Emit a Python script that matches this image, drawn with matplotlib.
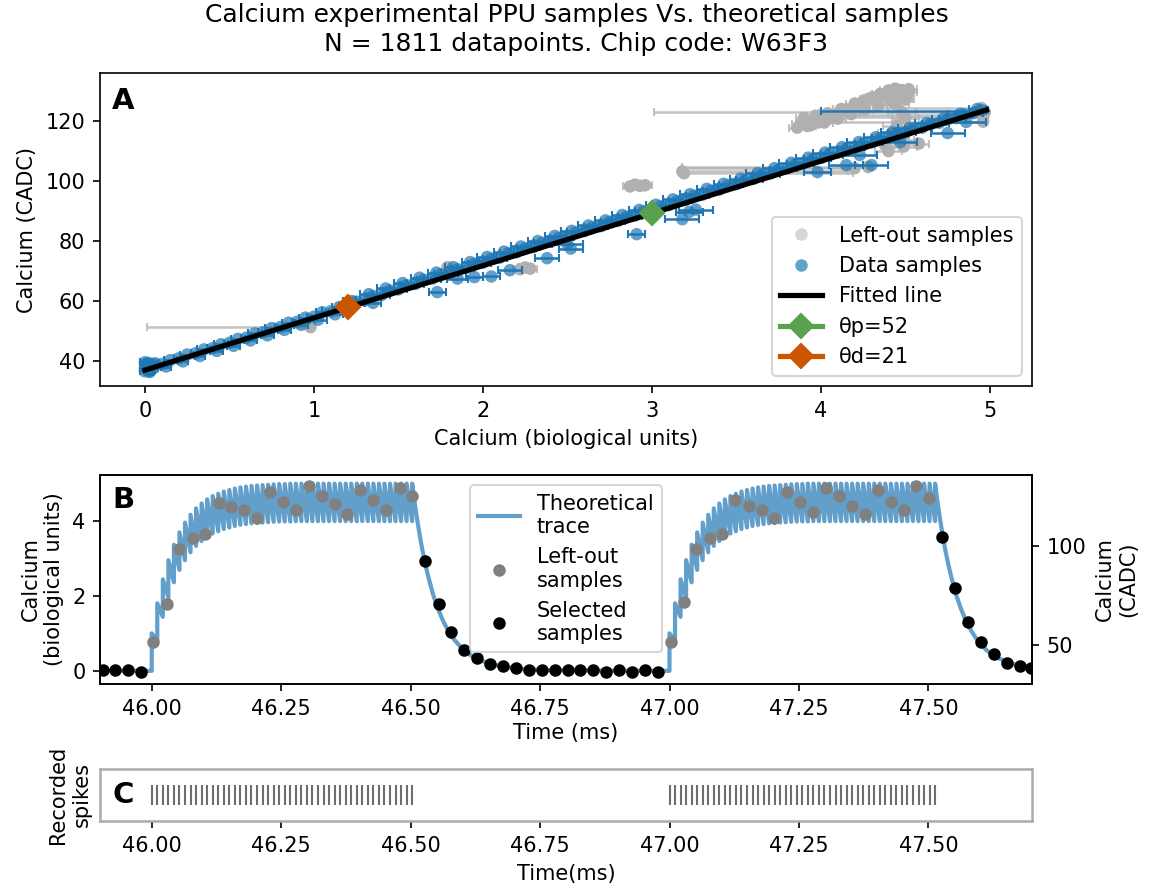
import numpy as np
import matplotlib
matplotlib.use("Agg")
import matplotlib.pyplot as plt
from matplotlib.lines import Line2D

# ---------------- Panel A data ----------------
band_x = [0.00, 0.01, 0.02, 0.00, 0.03, 0.01, 0.04, 0.02, 0.05, 0.06, 0.00, 0.03,
          0.05, 0.10, 0.15, 0.20, 0.25, 0.30, 0.35, 0.40, 0.45, 0.50,
          0.55, 0.60, 0.65, 0.70, 0.75, 0.80, 0.85, 0.90, 0.95, 1.00,
          1.05, 1.10, 1.15, 1.20, 1.25, 1.30, 1.35, 1.40, 1.45, 1.50,
          1.55, 1.60, 1.65, 1.70, 1.75, 1.80, 1.85, 1.90, 1.95, 2.00,
          2.05, 2.10, 2.15, 2.20, 2.25, 2.30, 2.35, 2.40, 2.45, 2.50,
          2.55, 2.60, 2.65, 2.70, 2.75, 2.80, 2.85, 2.90, 2.95, 3.00,
          3.05, 3.10, 3.15, 3.20, 3.25, 3.30, 3.35, 3.40, 3.45, 3.50,
          3.55, 3.60, 3.65, 3.70, 3.75, 3.80, 3.85, 3.90, 3.95, 4.00,
          4.05, 4.10, 4.15, 4.20, 4.25, 4.30, 4.35, 4.40, 4.45, 4.50,
          4.55, 4.60, 4.65, 4.70, 4.75, 4.80, 4.85, 4.90, 4.95]
band_y = [36.6, 38.2, 39.4, 37.8, 37.2, 39.0, 38.4, 36.9, 37.6, 39.3, 39.6, 36.4,
          38.8, 39.0, 40.3, 40.9, 42.2, 42.6, 43.9, 44.3, 45.6, 46.1,
          47.4, 47.8, 49.2, 49.6, 51.0, 51.3, 52.8, 53.1, 54.5, 54.8,
          56.3, 56.6, 58.0, 58.3, 59.8, 60.2, 61.7, 62.0, 63.5, 63.9,
          65.3, 65.7, 67.1, 67.5, 68.9, 69.2, 70.6, 71.0, 72.4, 72.8,
          74.1, 74.5, 75.9, 76.3, 77.6, 78.0, 79.4, 79.8, 81.1, 81.5,
          82.9, 83.3, 84.6, 85.0, 86.4, 86.8, 88.1, 88.5, 89.9, 90.2,
          91.6, 92.0, 93.3, 93.7, 95.1, 95.5, 96.8, 97.2, 98.6, 99.0,
          100.3, 100.7, 102.1, 102.5, 103.8, 104.2, 105.6, 106.0, 107.3, 107.7,
          109.1, 109.5, 110.8, 111.2, 112.5, 112.9, 114.2, 114.5, 115.9, 116.2,
          117.5, 117.8, 119.1, 119.4, 120.6, 121.0, 122.2, 122.6, 123.6]
band_xerr = [0.03, 0.02, 0.03, 0.02, 0.03, 0.02, 0.03, 0.02, 0.03, 0.02, 0.03, 0.02,
             0.03, 0.03, 0.04, 0.03, 0.04, 0.03, 0.04, 0.03, 0.04, 0.03,
             0.04, 0.03, 0.04, 0.03, 0.04, 0.03, 0.04, 0.03, 0.04, 0.04,
             0.04, 0.05, 0.04, 0.05, 0.04, 0.05, 0.04, 0.05, 0.04, 0.05,
             0.04, 0.05, 0.04, 0.05, 0.04, 0.05, 0.04, 0.05, 0.04, 0.05,
             0.05, 0.04, 0.05, 0.04, 0.05, 0.04, 0.05, 0.04, 0.05, 0.04,
             0.05, 0.04, 0.05, 0.04, 0.05, 0.04, 0.05, 0.04, 0.05, 0.04,
             0.05, 0.04, 0.05, 0.04, 0.05, 0.04, 0.05, 0.04, 0.05, 0.04,
             0.05, 0.06, 0.05, 0.06, 0.05, 0.06, 0.05, 0.06, 0.05, 0.06,
             0.05, 0.06, 0.05, 0.06, 0.05, 0.06, 0.05, 0.06, 0.05, 0.06,
             0.05, 0.06, 0.05, 0.06, 0.05, 0.06, 0.05, 0.06, 0.04]

band2_x = [0.025, 0.125, 0.225, 0.325, 0.425, 0.525, 0.625, 0.725, 0.825, 0.925,
           1.025, 1.125, 1.225, 1.325, 1.425, 1.525, 1.625, 1.725, 1.825, 1.925,
           2.025, 2.125, 2.225, 2.325, 2.425, 2.525, 2.625, 2.725, 2.825, 2.925,
           3.025, 3.125, 3.225, 3.325, 3.425, 3.525, 3.625, 3.725, 3.825, 3.925,
           4.025, 4.125, 4.225, 4.325, 4.425, 4.525, 4.625, 4.725, 4.825, 4.925]
band2_y = [36.6, 38.2, 39.9, 41.7, 43.4, 45.1, 46.9, 48.6, 50.4, 52.1,
           53.8, 55.6, 60.0, 62.3, 64.2, 66.0, 67.8, 69.5, 71.3, 73.0,
           74.7, 76.5, 78.2, 80.0, 81.7, 83.4, 85.2, 86.9, 88.7, 90.4,
           92.1, 93.9, 95.6, 97.4, 99.1, 100.8, 102.6, 104.3, 106.1, 107.8,
           109.5, 111.3, 113.0, 114.6, 116.2, 117.7, 119.3, 120.8, 122.4, 124.0]
band2_xerr = [0.03, 0.03, 0.03, 0.03, 0.04, 0.04, 0.04, 0.04, 0.04, 0.04,
              0.05, 0.05, 0.05, 0.05, 0.05, 0.05, 0.05, 0.05, 0.05, 0.05,
              0.06, 0.06, 0.06, 0.06, 0.06, 0.06, 0.06, 0.06, 0.06, 0.06,
              0.06, 0.06, 0.06, 0.06, 0.06, 0.06, 0.07, 0.07, 0.07, 0.07,
              0.07, 0.07, 0.07, 0.07, 0.07, 0.07, 0.07, 0.07, 0.07, 0.05]

outlier_x = [1.73, 1.85, 1.95, 2.05, 2.16, 2.38, 2.52, 2.50, 2.91, 3.18,
             3.22, 3.26, 3.98, 4.15, 4.30, 4.23, 4.47, 4.75, 4.86, 1.35]
outlier_y = [63.0, 67.5, 68.0, 68.2, 70.3, 74.3, 77.5, 79.0, 82.3, 87.3,
             89.7, 90.5, 103.0, 105.3, 105.3, 108.7, 113.0, 116.0, 119.7, 59.4]
outlier_xerr = [0.05, 0.06, 0.05, 0.05, 0.07, 0.07, 0.07, 0.09, 0.05, 0.10,
                0.08, 0.10, 0.08, 0.10, 0.10, 0.10, 0.10, 0.10, 0.12, 0.05]

longbar_x = [4.97]
longbar_y = [123.3]
longbar_xerr_lo = [0.97]
longbar_xerr_hi = [0.01]

left_x = [0.98, 2.22, 2.25, 2.28, 1.79, 2.87, 2.90, 2.93, 2.96, 3.18,
          3.19, 4.20, 4.28, 3.88, 3.92, 3.98, 4.02, 4.06, 4.10, 4.15,
          4.20, 4.25, 4.30, 4.35, 4.40, 4.44, 4.48, 4.52, 4.46, 4.44,
          4.48, 4.50, 4.45, 4.42, 4.47, 4.49, 4.40, 4.44, 4.96, 4.96,
          4.97, 4.96, 4.95,
          3.86, 3.94, 4.02, 4.10, 4.18, 4.26, 4.34, 4.42, 4.50,
          3.90, 3.97, 4.04, 4.12, 4.20, 4.28, 4.36, 4.44, 4.52,
          4.38, 4.45, 4.52, 4.58]
left_y = [51.3, 70.6, 71.2, 70.8, 71.3, 98.2, 98.8, 98.4, 98.6, 103.2,
          102.6, 104.3, 104.7, 119.0, 118.4, 119.6, 120.6, 121.5, 122.4, 123.8,
          125.0, 126.6, 127.8, 129.0, 130.2, 130.8, 130.3, 129.6, 127.5, 125.6,
          123.0, 121.0, 118.5, 116.0, 113.8, 111.5, 110.0, 114.8, 121.2, 122.0,
          123.0, 119.8, 124.3,
          117.8, 118.6, 119.5, 120.8, 122.3, 123.8, 125.2, 126.5, 127.3,
          121.0, 121.8, 122.6, 124.0, 125.8, 127.3, 128.7, 129.8, 130.6,
          112.0, 115.5, 117.0, 112.5]
left_xerr_lo = [0.97, 0.04, 0.04, 0.04, 0.02, 0.04, 0.04, 0.04, 0.04, 0.00,
                0.00, 1.02, 1.10, 0.05, 0.05, 0.05, 0.05, 0.05, 0.05, 0.05,
                0.05, 0.05, 0.05, 0.05, 0.05, 0.05, 0.05, 0.05, 0.08, 0.08,
                0.08, 0.08, 0.08, 0.08, 0.08, 0.08, 0.08, 0.08, 1.00, 0.95,
                1.96, 1.05, 0.60,
                0.05, 0.05, 0.05, 0.05, 0.05, 0.05, 0.05, 0.05, 0.05,
                0.05, 0.05, 0.05, 0.05, 0.05, 0.05, 0.05, 0.05, 0.05,
                0.06, 0.06, 0.06, 0.06]
left_xerr_hi = [0.00, 0.04, 0.04, 0.04, 0.02, 0.04, 0.04, 0.04, 0.04, 0.98,
                1.00, 0.02, 0.02, 0.05, 0.05, 0.05, 0.05, 0.05, 0.05, 0.05,
                0.05, 0.05, 0.05, 0.05, 0.05, 0.05, 0.05, 0.05, 0.08, 0.08,
                0.08, 0.08, 0.08, 0.08, 0.08, 0.08, 0.08, 0.08, 0.02, 0.02,
                0.02, 0.02, 0.02,
                0.05, 0.05, 0.05, 0.05, 0.05, 0.05, 0.05, 0.05, 0.05,
                0.05, 0.05, 0.05, 0.05, 0.05, 0.05, 0.05, 0.05, 0.05,
                0.06, 0.06, 0.06, 0.06]

fit_x = [0.0, 4.98]
fit_y = [37.0, 123.7]
theta_p_xy = (3.0, 89.4)
theta_d_xy = (1.2, 57.9)

# ---------------- Panel B data ----------------
burst_starts = [46.000, 47.000]
burst_ends = [46.503, 47.513]
burst_counts = [48, 49]
rise_peaks = [1.00, 1.80, 2.44, 2.95, 3.36, 3.69, 3.95, 4.16, 4.33, 4.46,
              4.57, 4.66, 4.72, 4.78, 4.82, 4.86, 4.89, 4.91, 4.93, 4.94,
              4.95, 4.96, 4.97, 4.98, 4.98, 4.99, 4.99]
rise_troughs = [0.80, 1.44, 1.95, 2.36, 2.69, 2.95, 3.16, 3.33, 3.46, 3.57,
                3.66, 3.72, 3.78, 3.82, 3.86, 3.89, 3.91, 3.93, 3.94, 3.95,
                3.96, 3.97, 3.98, 3.98, 3.98, 3.99, 3.99]
plateau_peak = 4.99
plateau_trough = 3.99
tail_dt = [0.0, 0.005, 0.01, 0.015, 0.02, 0.025, 0.03, 0.04, 0.05, 0.06,
           0.07, 0.08, 0.10, 0.12, 0.15, 0.20, 0.25, 0.30, 0.40, 0.49]
tail_v = [4.99, 4.47, 4.00, 3.58, 3.20, 2.87, 2.57, 2.05, 1.65, 1.32,
          1.06, 0.85, 0.54, 0.35, 0.18, 0.06, 0.02, 0.01, 0.00, 0.00]

sel_t = [45.905, 45.929, 45.954, 45.979, 46.528, 46.554, 46.578, 46.604, 46.628,
         46.653, 46.678, 46.703, 46.728, 46.753, 46.778, 46.803, 46.827, 46.852,
         46.878, 46.903, 46.928, 46.952, 46.977, 47.527, 47.552, 47.576, 47.602,
         47.627, 47.652, 47.677, 47.699]
sel_v = [0.02, 0.03, 0.03, -0.03, 2.94, 1.78, 1.03, 0.55, 0.35, 0.18, 0.12, 0.07,
         0.03, 0.03, 0.03, 0.03, 0.03, 0.03, -0.03, 0.03, -0.03, 0.03, -0.03,
         3.58, 2.20, 1.30, 0.77, 0.45, 0.22, 0.13, 0.08]
lo_t = [46.003, 46.029, 46.053, 46.079, 46.103, 46.129, 46.154, 46.178, 46.204,
        46.228, 46.253, 46.279, 46.304, 46.329, 46.354, 46.378, 46.403, 46.428,
        46.453, 46.479, 46.503, 47.003, 47.028, 47.052, 47.078, 47.102, 47.127,
        47.153, 47.178, 47.202, 47.227, 47.252, 47.277, 47.302, 47.327, 47.352,
        47.377, 47.402, 47.427, 47.452, 47.477, 47.502]
lo_v = [0.77, 1.77, 3.26, 3.53, 3.65, 4.48, 4.37, 4.28, 4.06, 4.76, 4.49, 4.28,
        4.92, 4.65, 4.44, 4.17, 4.81, 4.54, 4.28, 4.86, 4.65, 0.77, 1.83, 3.26,
        3.53, 3.64, 4.54, 4.38, 4.28, 4.06, 4.76, 4.49, 4.22, 4.86, 4.65, 4.38,
        4.17, 4.81, 4.49, 4.28, 4.92, 4.60]

time_ticks = [46.00, 46.25, 46.50, 46.75, 47.00, 47.25, 47.50]

# ---------------- figure ----------------
DPI = 150
plt.rcParams["font.family"] = ["DejaVu Sans"]
plt.rcParams["font.size"] = 10
fig = plt.figure(figsize=(1153 / DPI, 895 / DPI), dpi=DPI)

axA = fig.add_axes([0.0867, 0.5687, 0.8083, 0.3497])
axB = fig.add_axes([0.0867, 0.2358, 0.8083, 0.2335])
axC = fig.add_axes([0.0867, 0.0827, 0.8083, 0.0581])

fig.text(0.5, 1 - 3 / 895,
         "Calcium experimental PPU samples Vs. theoretical samples\n"
         "N = 1811 datapoints. Chip code: W63F3",
         ha="center", va="top", fontsize=12, linespacing=1.25)

# ---- Panel A ----
grey_bar = "#b4b4b4"
axA.errorbar(left_x, left_y, xerr=[left_xerr_lo, left_xerr_hi], fmt="none",
             ecolor=grey_bar, elinewidth=1.2, capsize=2, alpha=0.8, zorder=1)
axA.scatter(left_x, left_y, s=36, color="#b0b0b0", edgecolors="none", zorder=1.5)

all_bx = band_x + band2_x + outlier_x
all_by = band_y + band2_y + outlier_y
all_bxe = band_xerr + band2_xerr + outlier_xerr
axA.errorbar(all_bx, all_by, xerr=all_bxe, fmt="none", ecolor="#1f77b4",
             elinewidth=1.2, capsize=2, zorder=2)
axA.errorbar(longbar_x, longbar_y, xerr=[longbar_xerr_lo, longbar_xerr_hi],
             fmt="none", ecolor="#1f77b4", elinewidth=1.2, capsize=2, zorder=2)
axA.scatter(all_bx, all_by, s=36, color="#1f77b4", alpha=0.7,
            edgecolors="none", zorder=2.5)
axA.plot(fit_x, fit_y, color="black", lw=2.5, zorder=3)
green = "#59a14f"
orange = "#cc5500"
axA.plot([theta_p_xy[0]], [theta_p_xy[1]], marker="D", ms=8, color=green,
         ls="none", zorder=4)
axA.plot([theta_d_xy[0]], [theta_d_xy[1]], marker="D", ms=8, color=orange,
         ls="none", zorder=4)

axA.set_xlim(-0.266, 5.249)
axA.set_ylim(31.7, 136.0)
axA.set_yticks([40, 60, 80, 100, 120])
axA.set_xticks([0, 1, 2, 3, 4, 5])
axA.set_xlabel("Calcium (biological units)")
axA.set_ylabel("Calcium (CADC)")
handlesA = [
    Line2D([], [], marker="o", ls="none", color="#d6d6d6", ms=5),
    Line2D([], [], marker="o", ls="none", color="#62a3cb", ms=5),
    Line2D([], [], color="black", lw=2.5),
    Line2D([], [], color=green, lw=2.5, marker="D", ms=8),
    Line2D([], [], color=orange, lw=2.5, marker="D", ms=8),
]
axA.legend(handlesA, ["Left-out samples", "Data samples", "Fitted line",
                      "θp=52", "θd=21"], loc="lower right")
axA.text(0.013, 0.955, "A", transform=axA.transAxes, fontsize=14,
         fontweight="bold", va="top", ha="left")

# ---- Panel B ----
tr_t = [45.9, burst_starts[0]]
tr_v = [0.0, 0.0]
for b in range(2):
    n = burst_counts[b]
    times = np.linspace(burst_starts[b], burst_ends[b], n)
    peaks = rise_peaks + [plateau_peak] * (n - len(rise_peaks))
    troughs = rise_troughs + [plateau_trough] * (n - len(rise_troughs))
    for k, t in enumerate(times):
        prev = troughs[k - 1] if k > 0 else 0.0
        tr_t += [t, t]
        tr_v += [prev, peaks[k]]
    for dt, v in zip(tail_dt[1:], tail_v[1:]):
        tt = times[-1] + dt
        if b == 0 and tt >= burst_starts[1]:
            break
        tr_t.append(tt)
        tr_v.append(v)
    if b == 0:
        tr_t.append(burst_starts[1])
        tr_v.append(0.0)

axB.plot(tr_t, tr_v, color="#1f77b4", alpha=0.7, lw=2.0,
         label="Theoretical\ntrace", zorder=1)
axB.plot(lo_t, lo_v, "o", color="grey", ms=5, label="Left-out\nsamples", zorder=2)
axB.plot(sel_t, sel_v, "o", color="black", ms=5, label="Selected\nsamples", zorder=3)
axB.set_xlim(45.9, 47.7)
axB.set_ylim(-0.35, 5.22)
axB.set_yticks([0, 2, 4])
axB.set_xticks(time_ticks)
axB.set_xlabel("Time (ms)", labelpad=2)
axB.set_ylabel("Calcium\n(biological units)")
axB.legend(loc="upper center")
axB.text(0.013, 0.945, "B", transform=axB.transAxes, fontsize=14,
         fontweight="bold", va="top", ha="left")
axB2 = axB.twinx()
axB2.set_ylim(30.3, 135.9)
axB2.set_yticks([50, 100])
axB2.set_ylabel("Calcium\n(CADC)")

# ---- Panel C ----
spike_times = []
for b in range(2):
    spike_times += list(np.linspace(burst_starts[b], burst_ends[b], burst_counts[b]))
axC.eventplot([spike_times], lineoffsets=0.5, linelengths=0.4,
              colors="#6e6e6e", linewidths=1.0)
axC.set_xlim(45.9, 47.7)
axC.set_ylim(0, 1)
axC.set_yticks([])
axC.set_xticks(time_ticks)
for sp in axC.spines.values():
    sp.set_color("#aaaaaa")
    sp.set_linewidth(1.2)
axC.set_xlabel("Time(ms)")
axC.set_ylabel("Recorded\nspikes")
axC.text(0.013, 0.5, "C", transform=axC.transAxes, fontsize=14,
         fontweight="bold", va="center", ha="left")

fig.savefig("out.png", dpi=DPI)
